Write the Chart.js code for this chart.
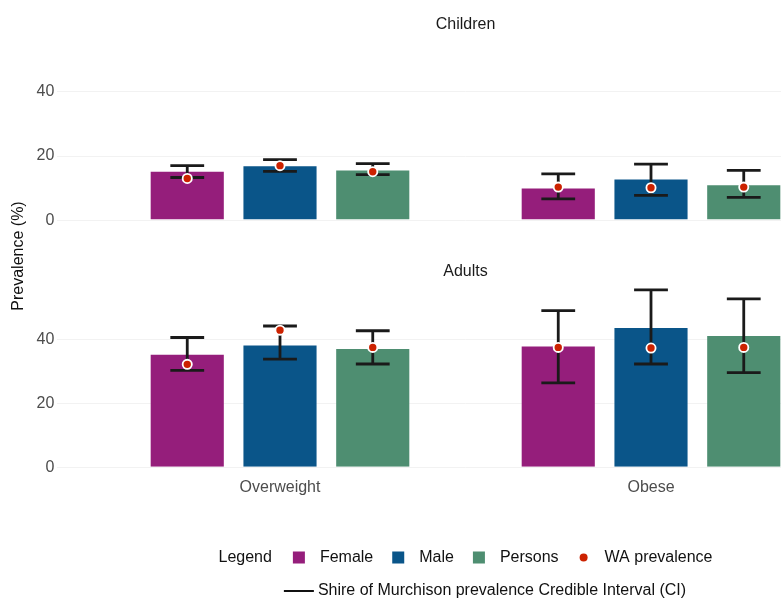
<!DOCTYPE html>
<html>
<head>
<meta charset="utf-8">
<title>Overweight and obesity prevalence</title>
<script src="https://cdn.jsdelivr.net/npm/chart.js@4"></script>
<style>
  html, body { margin: 0; padding: 0; background: #ffffff; overflow: hidden; width: 781px; height: 599px; }
  canvas { position: absolute; left: 0; top: 0; }
</style>
</head>
<body>
<canvas id="childrenChart" width="900" height="599"></canvas>
<canvas id="adultsChart" width="900" height="599"></canvas>
<script>
// ---- Data -------------------------------------------------------------
const categories = ['Overweight', 'Obese'];
const seriesLabels = ['Female', 'Male', 'Persons'];
const yTicks = [0, 20, 40];

// Rows: Female, Male, Persons. Columns: Overweight, Obese.
const childrenPrevalence = [[15.4, 10.2], [17.1, 13.0], [15.8, 11.2]];
const childrenLower      = [[13.3, 6.6],  [15.2, 7.7],  [14.2, 7.1]];
const childrenUpper      = [[17.0, 14.4], [18.9, 17.5], [17.6, 15.5]];
const childrenWA         = [[13.0, 10.3], [17.0, 10.1], [15.1, 10.3]];

const adultsPrevalence = [[35.5, 38.1], [38.4, 43.9], [37.3, 41.4]];
const adultsLower      = [[30.3, 26.4], [33.8, 32.3], [32.3, 29.6]];
const adultsUpper      = [[40.6, 49.0], [44.2, 55.5], [42.7, 52.7]];
const adultsWA         = [[32.2, 37.5], [42.9, 37.3], [37.5, 37.5]];

// ---- Styling ----------------------------------------------------------
const seriesColors = ['#951E7B', '#0A5589', '#4E8E71'];
const waColor = '#CC2200';
const ciColor = '#1A1A1A';
const FONT = '"Liberation Sans", Arial, Helvetica, sans-serif';

Chart.defaults.font.family = FONT;
Chart.defaults.font.size = 16;
Chart.defaults.animation = false;

// Credible-interval whiskers and WA prevalence dots, placed on each bar
const intervalPlugin = {
  id: 'intervals',
  afterDatasetsDraw(chart) {
    const { ctx } = chart;
    const yScale = chart.scales.y;
    chart.data.datasets.forEach((ds, i) => {
      const meta = chart.getDatasetMeta(i);
      meta.data.forEach((bar, j) => {
        const x = bar.x;
        const half = bar.width * 0.225;
        const yLo = yScale.getPixelForValue(ds.ciLower[j]);
        const yHi = yScale.getPixelForValue(ds.ciUpper[j]);
        ctx.save();
        ctx.strokeStyle = ciColor;
        ctx.lineWidth = 2.8;
        ctx.lineCap = 'butt';
        ctx.beginPath();
        ctx.moveTo(x, yLo); ctx.lineTo(x, yHi);
        ctx.moveTo(x - half, yLo); ctx.lineTo(x + half, yLo);
        ctx.moveTo(x - half, yHi); ctx.lineTo(x + half, yHi);
        ctx.stroke();
        const yWA = yScale.getPixelForValue(ds.wa[j]);
        ctx.beginPath();
        ctx.arc(x, yWA, 4.6, 0, Math.PI * 2);
        ctx.fillStyle = waColor;
        ctx.fill();
        ctx.lineWidth = 1.8;
        ctx.strokeStyle = '#ffffff';
        ctx.stroke();
        ctx.restore();
      });
    });
  }
};

// Shared legend under the panels plus the common y-axis title
const sharedLegend = {
  id: 'sharedLegend',
  afterDraw(chart, args, opts) {
    if (!opts || !opts.enabled) return;
    const { ctx, chartArea } = chart;
    const cx = (chartArea.left + chartArea.right) / 2;
    ctx.save();
    ctx.font = '16px ' + FONT;
    ctx.textBaseline = 'middle';
    ctx.textAlign = 'left';
    const textColor = '#111111';
    const items = chart.data.datasets.map(ds => ({ label: ds.label, color: ds.backgroundColor, kind: 'box' }));
    items.push({ label: opts.pointLabel, color: waColor, kind: 'dot' });

    const key = 12, keyGap = 15, itemGap = 19, titleGap = 21;
    const titleW = ctx.measureText(opts.title).width;
    let total = titleW + titleGap;
    items.forEach((it, k) => {
      total += key + keyGap + ctx.measureText(it.label).width + (k < items.length - 1 ? itemGap : 0);
    });
    let x = cx - total / 2;
    const y1 = opts.rowY[0];
    const y2 = opts.rowY[1];
    ctx.fillStyle = textColor;
    ctx.fillText(opts.title, x, y1);
    const afterTitle = x + titleW;
    x += titleW + titleGap;
    items.forEach(it => {
      if (it.kind === 'box') {
        ctx.fillStyle = it.color;
        ctx.fillRect(x, y1 - key / 2, key, key);
      } else {
        ctx.beginPath();
        ctx.arc(x + key / 2, y1, 4, 0, Math.PI * 2);
        ctx.fillStyle = it.color;
        ctx.fill();
      }
      x += key + keyGap;
      ctx.fillStyle = textColor;
      ctx.fillText(it.label, x, y1);
      x += ctx.measureText(it.label).width + itemGap;
    });

    // Second row: the interval line key
    const lx = afterTitle + 12;
    ctx.strokeStyle = textColor;
    ctx.lineWidth = 2;
    ctx.beginPath();
    ctx.moveTo(lx, y2);
    ctx.lineTo(lx + 30, y2);
    ctx.stroke();
    ctx.fillStyle = textColor;
    ctx.fillText(opts.lineLabel, lx + 34, y2);

    // Common y-axis title
    ctx.translate(opts.yTitleX, opts.yTitleY);
    ctx.rotate(-Math.PI / 2);
    ctx.textAlign = 'center';
    ctx.font = '16px ' + FONT;
    ctx.fillText(opts.yTitle, 0, 0);
    ctx.restore();
  }
};

function buildDatasets(prevalence, lower, upper, wa) {
  return seriesLabels.map((label, i) => ({
    type: 'bar',
    label,
    data: categories.map((c, j) => ({ x: j + 1, y: prevalence[i][j] })),
    backgroundColor: seriesColors[i],
    borderColor: 'rgba(255,255,255,0.3)',
    borderWidth: 1,
    categoryPercentage: 0.75,
    barPercentage: 0.81,
    ciLower: lower[i],
    ciUpper: upper[i],
    wa: wa[i]
  }));
}

function makePanel(canvasId, title, datasets, cfg) {
  return new Chart(document.getElementById(canvasId), {
    type: 'bar',
    data: { datasets },
    options: {
      responsive: false,
      animation: false,
      layout: { padding: cfg.padding },
      plugins: {
        legend: { display: false },
        tooltip: { enabled: false },
        title: {
          display: true,
          fullSize: false,
          text: title,
          color: '#1A1A1A',
          font: { size: 16, weight: 'normal', lineHeight: 1 },
          padding: cfg.titlePadding
        },
        sharedLegend: cfg.legend || { enabled: false }
      },
      scales: {
        x: {
          type: 'linear',
          min: 0.4,
          max: 2.6,
          offset: false,
          display: cfg.showX,
          afterBuildTicks: s => { s.ticks = categories.map((c, j) => ({ value: j + 1 })); },
          grid: { display: false, drawTicks: false },
          border: { display: false },
          ticks: {
            color: '#4D4D4D',
            font: { size: 16 },
            padding: 2,
            maxRotation: 0,
            autoSkip: false,
            callback: v => categories[Math.round(v) - 1] || ''
          }
        },
        y: {
          min: -2.775,
          max: 58.275,
          stacked: false,
          afterBuildTicks: s => { s.ticks = yTicks.map(v => ({ value: v })); },
          afterFit: s => { s.width = 57.4; },
          grid: { color: '#F2F2F2', lineWidth: 1, drawTicks: false },
          border: { display: false },
          ticks: {
            color: '#4D4D4D',
            font: { size: 16 },
            padding: 3,
            callback: v => String(v)
          }
        }
      }
    },
    plugins: [intervalPlugin, sharedLegend]
  });
}

makePanel('childrenChart', 'Children',
  buildDatasets(childrenPrevalence, childrenLower, childrenUpper, childrenWA),
  {
    padding: { top: 0, bottom: 370, left: 0, right: 26.4 },
    titlePadding: { top: 17, bottom: 0.4 },
    showX: false
  });

makePanel('adultsChart', 'Adults',
  buildDatasets(adultsPrevalence, adultsLower, adultsUpper, adultsWA),
  {
    padding: { top: 251.4, bottom: 99.7, left: 0, right: 26.4 },
    titlePadding: { top: 12.6, bottom: 1.0 },
    showX: true,
    legend: {
      enabled: true,
      title: 'Legend',
      pointLabel: 'WA prevalence',
      lineLabel: 'Shire of Murchison prevalence Credible Interval (CI)',
      rowY: [557.5, 591],
      yTitle: 'Prevalence (%)',
      yTitleX: 19,
      yTitleY: 256
    }
  });
</script>
</body>
</html>
